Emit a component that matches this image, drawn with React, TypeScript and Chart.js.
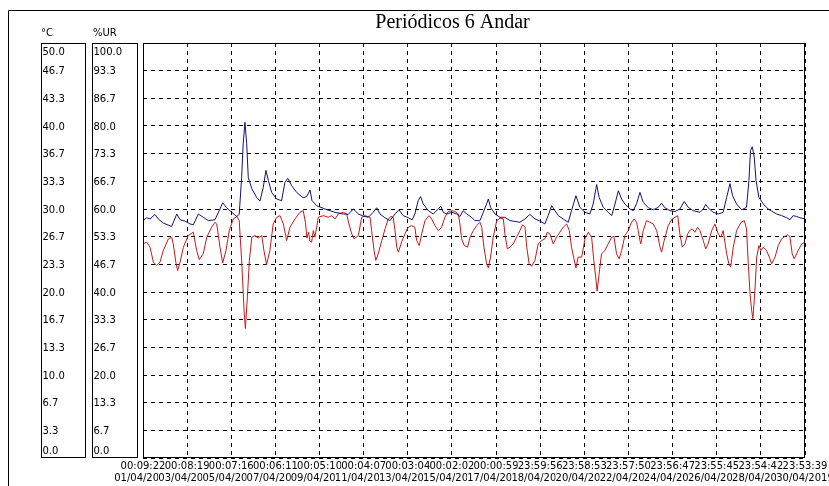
import React, { useEffect, useRef } from 'react';
import { Chart, registerables } from 'chart.js';

Chart.register(...registerables);

const chartTitle = 'Periódicos 6 Andar';
const tempUnit = '°C';
const humUnit = '%UR';

const tempTickLabels = ['0.0', '3.3', '6.7', '10.0', '13.3', '16.7', '20.0', '23.3', '26.7', '30.0', '33.3', '36.7', '40.0', '43.3', '46.7', '50.0'];
const humTickLabels = ['0.0', '6.7', '13.3', '20.0', '26.7', '33.3', '40.0', '46.7', '53.3', '60.0', '66.7', '73.3', '80.0', '86.7', '93.3', '100.0'];

const timeLabels = ['00:09:22', '00:08:19', '00:07:16', '00:06:11', '00:05:10', '00:04:07', '00:03:04', '00:02:02', '00:00:59', '23:59:56', '23:58:53', '23:57:50', '23:56:47', '23:55:45', '23:54:42', '23:53:39'];
const dateLabels = ['01/04/2019', '03/04/2019', '05/04/2019', '07/04/2019', '09/04/2019', '11/04/2019', '13/04/2019', '15/04/2019', '17/04/2019', '18/04/2019', '20/04/2019', '22/04/2019', '24/04/2019', '26/04/2019', '28/04/2019', '30/04/2019'];

// x in days since first sample
const humDays = [
  0.0, 0.17, 0.32, 0.54, 0.69, 0.92, 1.30, 1.53, 1.68, 1.90,
  2.13, 2.28, 2.51, 2.73, 2.96, 3.26, 3.49, 3.61, 3.79, 4.02,
  4.25, 4.36, 4.47, 4.54, 4.62, 4.70, 4.77, 4.93, 5.15, 5.30,
  5.45, 5.57, 5.68, 5.83, 6.06, 6.28, 6.43, 6.56, 6.74, 6.96,
  7.26, 7.42, 7.57, 7.66, 7.87, 8.25, 8.70, 9.08, 9.30, 9.53,
  9.76, 9.98, 10.21, 10.43, 10.59, 10.74, 10.96, 11.19, 11.42, 11.60,
  11.79, 12.02, 12.20, 12.32, 12.47, 12.58, 12.70, 12.93, 13.15, 13.38,
  13.49, 13.61, 13.76, 13.99, 14.21, 14.36, 14.51, 14.67, 14.89, 15.04,
  15.27, 15.42, 15.57, 15.65, 15.75, 15.95, 16.18, 16.40, 16.63, 16.86,
  17.08, 17.31, 17.53, 17.76, 17.99, 18.21, 18.36, 18.52, 18.67, 18.82,
  19.04, 19.27, 19.42, 19.62, 19.80, 20.03, 20.25, 20.40, 20.48, 20.56,
  20.67, 20.86, 21.08, 21.24, 21.39, 21.54, 21.69, 21.84, 22.07, 22.22,
  22.37, 22.52, 22.67, 22.90, 23.12, 23.35, 23.50, 23.65, 23.88, 24.11,
  24.33, 24.53, 24.71, 24.93, 25.24, 25.39, 25.50, 25.61, 25.84, 26.07,
  26.29, 26.45, 26.60, 26.72, 26.90, 27.13, 27.35, 27.46, 27.53, 27.61,
  27.70, 27.78, 27.91, 28.11, 28.33, 28.49, 28.71, 28.94, 29.17, 29.32,
  29.46, 29.62, 29.77, 30.0,
];
const humVals = [
  57.2, 57.9, 57.6, 58.7, 57.6, 56.6, 55.8, 58.8, 57.4, 57.1,
  56.4, 56.2, 58.8, 58.0, 57.2, 57.4, 60.0, 61.5, 60.3, 59.2,
  58.2, 58.7, 67.6, 75.7, 80.9, 75.7, 67.6, 64.9, 62.8, 61.9,
  65.2, 69.3, 66.9, 64.0, 62.4, 62.0, 66.4, 67.4, 65.6, 64.0,
  62.7, 63.0, 64.6, 62.0, 60.8, 60.0, 59.2, 58.8, 58.7, 60.0,
  58.8, 58.3, 58.0, 59.2, 60.3, 58.8, 57.9, 57.2, 58.8, 59.8,
  58.4, 57.9, 57.4, 58.8, 62.0, 63.0, 61.2, 59.6, 58.8, 60.0,
  60.7, 59.2, 58.8, 59.2, 58.8, 58.2, 59.6, 58.8, 58.0, 57.2,
  57.2, 59.2, 61.2, 62.4, 60.4, 58.8, 58.0, 58.0, 57.2, 57.0,
  56.8, 57.6, 58.7, 57.6, 57.1, 56.4, 58.4, 60.8, 59.6, 58.4,
  57.6, 56.8, 59.6, 63.2, 60.4, 59.2, 58.8, 61.2, 63.6, 65.9,
  62.8, 60.4, 59.2, 58.4, 61.2, 64.4, 62.4, 61.2, 60.0, 59.6,
  61.3, 64.0, 61.6, 60.3, 59.8, 60.4, 61.4, 60.3, 59.6, 59.4,
  60.0, 61.8, 60.4, 59.6, 59.2, 60.0, 61.1, 60.3, 59.2, 58.8,
  59.2, 62.8, 66.1, 63.2, 61.2, 59.8, 60.4, 66.9, 74.1, 75.0,
  72.5, 66.9, 62.8, 61.2, 60.0, 59.5, 58.8, 58.4, 57.9, 57.4,
  58.4, 58.2, 57.9, 57.6,
];

const tempDays = [
  0.0, 0.17, 0.32, 0.47, 0.62, 0.77, 0.92, 1.15, 1.30, 1.37,
  1.50, 1.57, 1.68, 1.83, 2.05, 2.28, 2.43, 2.55, 2.73, 2.89,
  3.11, 3.26, 3.34, 3.49, 3.61, 3.76, 3.91, 4.09, 4.25, 4.36,
  4.47, 4.58, 4.64, 4.73, 4.82, 4.93, 5.07, 5.22, 5.38, 5.48,
  5.60, 5.75, 5.90, 6.06, 6.21, 6.36, 6.51, 6.66, 6.89, 7.11,
  7.26, 7.36, 7.43, 7.50, 7.57, 7.64, 7.72, 7.79, 7.87, 7.94,
  8.17, 8.40, 8.55, 8.70, 8.85, 9.08, 9.23, 9.33, 9.46, 9.57,
  9.76, 9.91, 10.06, 10.29, 10.36, 10.47, 10.55, 10.66, 10.82, 10.97,
  11.11, 11.24, 11.34, 11.42, 11.50, 11.57, 11.72, 11.87, 12.02, 12.17,
  12.32, 12.40, 12.52, 12.63, 12.78, 12.96, 13.08, 13.23, 13.38, 13.53,
  13.68, 13.83, 13.99, 14.14, 14.29, 14.36, 14.44, 14.56, 14.71, 14.82,
  14.97, 15.12, 15.27, 15.35, 15.45, 15.57, 15.65, 15.75, 15.87, 16.03,
  16.18, 16.33, 16.40, 16.51, 16.63, 16.78, 16.93, 17.08, 17.20, 17.31,
  17.39, 17.50, 17.61, 17.76, 17.91, 18.07, 18.21, 18.32, 18.44, 18.59,
  18.74, 18.89, 19.04, 19.20, 19.32, 19.42, 19.53, 19.62, 19.72, 19.88,
  20.03, 20.18, 20.33, 20.43, 20.53, 20.58, 20.67, 20.78, 20.93, 21.08,
  21.24, 21.34, 21.46, 21.58, 21.69, 21.84, 21.99, 22.14, 22.26, 22.37,
  22.44, 22.52, 22.56, 22.67, 22.82, 22.97, 23.12, 23.28, 23.43, 23.50,
  23.62, 23.80, 23.98, 24.11, 24.23, 24.33, 24.44, 24.56, 24.68, 24.78,
  24.89, 25.01, 25.13, 25.24, 25.39, 25.50, 25.61, 25.77, 25.92, 26.07,
  26.19, 26.29, 26.45, 26.55, 26.63, 26.75, 26.90, 27.10, 27.25, 27.35,
  27.43, 27.51, 27.58, 27.64, 27.73, 27.81, 27.91, 28.00, 28.11, 28.26,
  28.41, 28.49, 28.64, 28.79, 28.94, 29.09, 29.21, 29.32, 29.42, 29.51,
  29.69, 29.85, 30.0,
];
const tempVals = [
  25.8, 26.0, 25.4, 23.6, 23.2, 23.6, 25.0, 26.4, 26.6, 25.8,
  23.4, 22.6, 23.6, 25.4, 26.8, 27.2, 25.0, 23.9, 24.6, 26.6,
  27.8, 28.4, 28.2, 25.4, 23.5, 25.0, 27.4, 28.8, 29.1, 28.6,
  23.8, 17.8, 15.6, 19.4, 23.8, 26.6, 26.8, 26.5, 26.8, 25.0,
  23.3, 25.0, 28.2, 29.0, 29.2, 28.2, 26.2, 27.8, 28.8, 29.6,
  29.8, 28.4, 26.5, 27.2, 26.1, 26.0, 27.4, 26.6, 27.8, 29.0,
  29.2, 29.0, 29.2, 28.8, 29.4, 29.6, 29.4, 28.2, 27.0, 26.4,
  26.8, 29.0, 29.2, 29.0, 27.4, 25.0, 23.8, 24.6, 26.2, 27.6,
  28.8, 29.1, 29.0, 27.4, 25.4, 24.8, 26.0, 27.0, 27.8, 28.0,
  27.8, 26.2, 25.6, 27.0, 28.6, 29.2, 28.8, 28.0, 27.4, 27.8,
  29.0, 29.7, 29.8, 29.7, 29.4, 28.2, 26.4, 25.6, 25.4, 26.6,
  27.4, 28.0, 28.4, 27.8, 25.4, 23.4, 22.9, 24.2, 26.6, 28.6,
  28.9, 28.8, 27.0, 25.2, 25.4, 25.8, 26.6, 27.4, 28.1, 27.8,
  25.4, 23.4, 23.1, 23.8, 25.8, 26.2, 26.4, 27.2, 27.0, 25.8,
  26.6, 27.2, 27.8, 28.2, 27.4, 25.4, 24.0, 22.9, 24.2, 24.2,
  26.4, 27.2, 26.6, 23.8, 21.4, 20.1, 22.2, 24.6, 25.0, 25.8,
  26.6, 26.7, 24.6, 24.0, 25.0, 26.8, 27.4, 28.4, 28.8, 28.4,
  27.4, 26.2, 25.8, 27.4, 28.6, 28.4, 28.2, 27.4, 25.4, 24.8,
  26.2, 28.0, 28.8, 29.0, 29.2, 27.0, 25.4, 25.8, 27.0, 27.4,
  27.6, 27.2, 27.8, 27.4, 26.2, 25.2, 25.8, 27.4, 28.2, 27.0,
  26.6, 27.4, 24.6, 23.4, 23.0, 25.4, 27.4, 28.4, 28.6, 27.6,
  23.4, 19.8, 17.8, 16.8, 20.2, 24.2, 25.6, 25.0, 25.4, 25.0,
  24.0, 23.4, 24.2, 25.6, 26.4, 26.7, 26.9, 26.6, 24.6, 24.0,
  25.0, 25.8, 26.0,
];

const TEMP_MAX = 50;
const HUM_MAX = 100;
const DAY_MAX = 30;

const LABEL_FONT = '10px "DejaVu Sans"';

const framePlugin = {
  id: 'loggerFrame',
  afterDraw(chart: any) {
    const { ctx, chartArea: a, scales } = chart;
    const yS = scales.y;
    const yU = scales.yU;
    const xS = scales.x;
    ctx.save();
    ctx.setLineDash([]);
    ctx.lineWidth = 1;
    ctx.strokeStyle = '#000';

    // outer frame (top and left)
    ctx.beginPath();
    ctx.moveTo(0.5, chart.height);
    ctx.lineTo(0.5, 2.5);
    ctx.lineTo(chart.width, 2.5);
    ctx.stroke();

    const top = Math.round(a.top) + 0.5;
    const bot = Math.round(a.bottom) - 0.5;
    const l = Math.round(a.left) + 0.5;
    const r = Math.round(a.right) - 0.5;
    ctx.strokeRect(l, top, r - l, bot - top);
    ctx.strokeRect(33.5, top, 44, bot - top);
    ctx.strokeRect(84.5, top, 45, bot - top);

    // title
    ctx.fillStyle = '#000';
    ctx.font = '20px "Liberation Serif"';
    ctx.textAlign = 'center';
    ctx.textBaseline = 'alphabetic';
    ctx.fillText(chartTitle, 444.5, 20);

    // unit headers
    ctx.font = LABEL_FONT;
    ctx.textAlign = 'left';
    ctx.textBaseline = 'middle';
    ctx.fillText(tempUnit, 33, 25.5);
    ctx.fillText(humUnit, 85, 25.5);

    // y labels
    const clampY = (y: number) => Math.max(a.top + 9.5, Math.min(a.bottom - 6.5, y));
    yS.ticks.forEach((t: any, i: number) => {
      const y = clampY(yS.getPixelForValue(t.value) + 1);
      ctx.fillText(tempTickLabels[i], 34.5, y);
    });
    yU.ticks.forEach((t: any, i: number) => {
      const y = clampY(yU.getPixelForValue(t.value) + 1);
      ctx.fillText(humTickLabels[i], 85.5, y);
    });

    // x labels with opaque background (later labels cover earlier ones)
    ctx.textAlign = 'center';
    const drawRow = (labels: string[], cy: number) => {
      xS.ticks.forEach((t: any, i: number) => {
        const x = xS.getPixelForValue(t.value);
        const w = ctx.measureText(labels[i]).width;
        ctx.fillStyle = '#fff';
        ctx.fillRect(x - w / 2, cy - 6, w, 12);
        ctx.fillStyle = '#000';
        ctx.fillText(labels[i], x, cy);
      });
    };
    drawRow(timeLabels, 458.5);
    drawRow(dateLabels, 470.5);
    ctx.restore();
  },
};

export default function App() {
  const canvasRef = useRef<HTMLCanvasElement | null>(null);

  useEffect(() => {
    const canvas = canvasRef.current;
    if (!canvas) return;
    const chart = new Chart(canvas, {
      type: 'line',
      data: {
        datasets: [
          {
            label: humUnit,
            data: humDays.map((d, i) => ({ x: d, y: humVals[i] })),
            yAxisID: 'yU',
            borderColor: '#12127a',
            borderWidth: 1,
            pointRadius: 0,
            tension: 0,
            fill: false,
          },
          {
            label: tempUnit,
            data: tempDays.map((d, i) => ({ x: d, y: tempVals[i] })),
            yAxisID: 'y',
            borderColor: '#c81818',
            borderWidth: 1,
            pointRadius: 0,
            tension: 0,
            fill: false,
          },
        ],
      },
      options: {
        animation: false,
        responsive: false,
        devicePixelRatio: 1,
        events: [],
        layout: { padding: { left: 135, right: 24, top: 35, bottom: 28 }, autoPadding: false },
        plugins: { legend: { display: false }, tooltip: { enabled: false }, title: { display: false } },
        scales: {
          x: {
            type: 'linear',
            min: 0,
            max: DAY_MAX,
            afterBuildTicks: (s: any) => {
              s.ticks = timeLabels.map((_, i) => ({ value: (i * DAY_MAX) / (timeLabels.length - 1) }));
            },
            afterFit: (s: any) => { s.height = 0; },
            ticks: { display: false },
            grid: { color: '#000', lineWidth: 1, drawTicks: false },
            border: { display: false, dash: [4, 4] },
          },
          y: {
            type: 'linear',
            position: 'left',
            min: 0,
            max: TEMP_MAX,
            afterBuildTicks: (s: any) => {
              s.ticks = tempTickLabels.map((_, i) => ({ value: (i * TEMP_MAX) / (tempTickLabels.length - 1) }));
            },
            afterFit: (s: any) => { s.width = 0; },
            ticks: { display: false },
            grid: { color: '#000', lineWidth: 1, drawTicks: false },
            border: { display: false, dash: [4, 4] },
          },
          yU: {
            type: 'linear',
            position: 'left',
            display: false,
            min: 0,
            max: HUM_MAX,
            afterBuildTicks: (s: any) => {
              s.ticks = humTickLabels.map((_, i) => ({ value: (i * HUM_MAX) / (humTickLabels.length - 1) }));
            },
          },
        },
      },
      plugins: [framePlugin],
    } as any);
    return () => chart.destroy();
  }, []);

  return (
    <div style={{ position: 'fixed', left: 8, top: 8, width: 821, height: 478, background: '#fff', overflow: 'hidden' }}>
      <canvas ref={canvasRef} width={821} height={478} style={{ display: 'block', width: 821, height: 478 }} />
    </div>
  );
}
